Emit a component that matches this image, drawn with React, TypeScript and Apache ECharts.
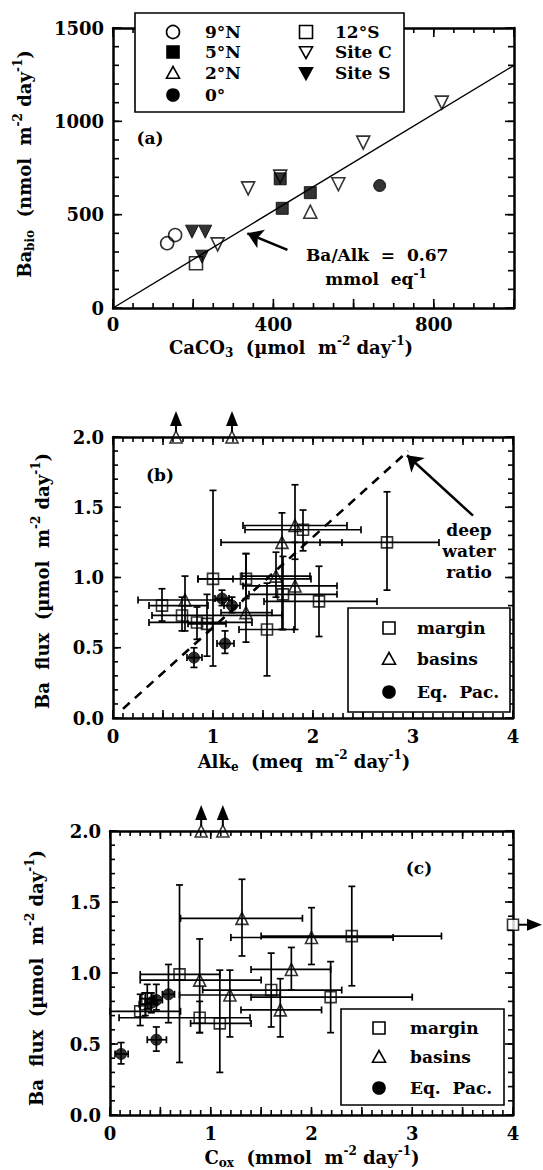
import React, { useEffect, useRef } from 'react';
import * as echarts from 'echarts';

const FONT = '"DejaVu Serif", "Liberation Serif", serif';

// ---------- Panel (a): [CaCO3 (umol m-2 d-1), Ba_bio (nmol m-2 d-1)] ----------
const a9N = [[135, 347], [155, 391]];
const a5N = [[417, 692], [422, 534], [492, 618]];
const a2N = [[492, 516]];
const a0 = [[665, 656]];
const a12S = [[207, 240]];
const aSiteC = [[261, 341], [337, 641], [417, 704], [562, 663], [624, 886], [820, 1100]];
const aSiteS = [[197, 409], [230, 409], [222, 275]];
const aFit = [[0, 0], [1000, 1300]];
const aArrow = [[435, 311], [335, 400]];

// ---------- Panel (b): [Alk_e, Ba flux, xLo, xHi, yLo, yHi] ----------
const bMargin = [
  [0.49, 0.80, 0.36, 0.95, 0.69, 0.92],
  [0.69, 0.73, 0.39, 1.69, 0.62, 0.86],
  [0.84, 0.68, 0.36, 1.39, 0.56, 0.79],
  [0.94, 0.67, 0.75, 1.13, 0.44, 0.88],
  [1.00, 0.99, 0.85, 1.20, 0.37, 1.62],
  [1.33, 0.99, 0.85, 1.98, 0.85, 1.17],
  [1.54, 0.63, 1.26, 1.81, 0.30, 0.96],
  [1.70, 0.88, 1.36, 2.24, 0.63, 1.15],
  [2.06, 0.83, 1.51, 2.64, 0.58, 1.08],
  [1.90, 1.34, 1.32, 2.48, 1.19, 1.48],
  [2.74, 1.25, 2.07, 3.26, 0.91, 1.61],
];
const bBasin = [
  [0.72, 0.84, 0.25, 1.19, 0.62, 1.01],
  [1.33, 0.75, 1.08, 1.59, 0.54, 1.17],
  [1.63, 1.01, 1.29, 1.97, 0.86, 1.18],
  [1.69, 1.25, 1.08, 2.29, 0.63, 1.46],
  [1.82, 1.37, 1.30, 2.34, 1.13, 1.66],
  [1.82, 0.94, 1.30, 2.24, 0.63, 1.25],
];
const bBasinOff = [[0.63, 2.0], [1.19, 2.0]];
const bEqPac = [
  [0.81, 0.43, 0.74, 0.89, 0.36, 0.50],
  [1.12, 0.53, 1.04, 1.21, 0.46, 0.62],
  [1.09, 0.85, 1.02, 1.16, 0.80, 0.91],
  [1.19, 0.80, 1.11, 1.27, 0.75, 0.86],
];
const bDeepWater = [[0.1, 0.065], [2.95, 1.9]];
const bArrow = [[3.6, 1.44], [2.94, 1.87]];

// ---------- Panel (c): [C_ox, Ba flux, xLo, xHi, yLo, yHi] ----------
const cMargin = [
  [2.40, 1.26, 1.50, 3.29, 0.91, 1.61],
  [0.69, 0.99, 0.30, 1.09, 0.37, 1.62],
  [1.60, 0.88, 0.92, 2.30, 0.62, 1.14],
  [2.19, 0.83, 1.40, 3.00, 0.58, 1.08],
  [0.89, 0.685, 0.09, 1.39, 0.58, 0.80],
  [1.09, 0.645, 0.80, 1.40, 0.30, 1.02],
  [0.30, 0.73, 0.00, 0.70, 0.63, 0.85],
  [0.35, 0.78, 0.29, 0.41, 0.70, 0.86],
  [0.37, 0.82, 0.30, 0.44, 0.75, 0.92],
];
const cMarginOff = [[4.0, 1.34]];
const cBasin = [
  [1.31, 1.385, 0.70, 1.91, 1.12, 1.66],
  [2.00, 1.25, 1.20, 2.81, 1.06, 1.46],
  [1.80, 1.025, 1.40, 2.19, 0.88, 1.18],
  [0.89, 0.95, 0.30, 1.50, 0.58, 1.24],
  [1.19, 0.845, 0.69, 1.69, 0.55, 1.02],
  [1.69, 0.74, 1.30, 2.10, 0.55, 0.96],
];
const cBasinOff = [[0.905, 2.0], [1.12, 2.0]];
const cEqPac = [
  [0.11, 0.43, 0.05, 0.18, 0.36, 0.51],
  [0.46, 0.53, 0.37, 0.56, 0.45, 0.62],
  [0.41, 0.79, 0.35, 0.47, 0.72, 0.86],
  [0.46, 0.81, 0.40, 0.52, 0.74, 0.92],
  [0.58, 0.85, 0.52, 0.64, 0.65, 1.06],
];

// tick labels
const aXLabels = [0, 400, 800];
const aYLabels = [0, 500, 1000, 1500];
const bcXLabels = [0, 1, 2, 3, 4];

// tick marks (positions along each axis)
const aXMajorTicks = [0, 200, 400, 600, 800, 1000];
const aYMajorTicks = [0, 500, 1000, 1500];
const bcXMajorTicks = [0, 0.5, 1, 1.5, 2, 2.5, 3, 3.5, 4];
const bcYMajorTicks = [0, 0.5, 1, 1.5, 2];
const steps = (lo: number, hi: number, st: number) => {
  const out: number[] = [];
  for (let i = 0; lo + i * st <= hi + 1e-9; i++) out.push(Math.round((lo + i * st) * 1000) / 1000);
  return out;
};
const aXMinorTicks = steps(0, 1000, 50);
const aYMinorTicks = steps(0, 1500, 100);
const bcXMinorTicks = steps(0, 4, 0.1);
const bcYMinorTicks = steps(0, 2, 0.1);

// ---------- helpers ----------
const BLACK = '#000';
const openStyle = { color: 'transparent', borderColor: BLACK, borderWidth: 1.6 };
const fillStyle = { color: BLACK, borderColor: BLACK, borderWidth: 1 };

function errorRender(params: any, api: any) {
  const x = api.value(0), y = api.value(1);
  const xl = api.value(2), xh = api.value(3), yl = api.value(4), yh = api.value(5);
  const pl = api.coord([xl, y]), ph = api.coord([xh, y]);
  const pb = api.coord([x, yl]), pt = api.coord([x, yh]);
  const c = 3.5;
  const st = { stroke: BLACK, lineWidth: 1.7 };
  const ln = (x1: number, y1: number, x2: number, y2: number) => ({ type: 'line', shape: { x1, y1, x2, y2 }, style: st });
  return {
    type: 'group',
    children: [
      ln(pl[0], pl[1], ph[0], ph[1]),
      ln(pl[0], pl[1] - c, pl[0], pl[1] + c),
      ln(ph[0], ph[1] - c, ph[0], ph[1] + c),
      ln(pb[0], pb[1], pt[0], pt[1]),
      ln(pb[0] - c, pb[1], pb[0] + c, pb[1]),
      ln(pt[0] - c, pt[1], pt[0] + c, pt[1]),
    ],
  };
}

function upArrowRender(params: any, api: any) {
  const p = api.coord([api.value(0), api.value(1)]);
  return {
    type: 'group',
    children: [
      { type: 'line', shape: { x1: p[0], y1: p[1] - 5, x2: p[0], y2: p[1] - 13 }, style: { stroke: BLACK, lineWidth: 2 } },
      { type: 'polygon', shape: { points: [[p[0], p[1] - 26], [p[0] - 6, p[1] - 11], [p[0] + 6, p[1] - 11]] }, style: { fill: BLACK } },
    ],
  };
}

function rightArrowRender(params: any, api: any) {
  const p = api.coord([api.value(0), api.value(1)]);
  return {
    type: 'group',
    children: [
      { type: 'line', shape: { x1: p[0] + 6, y1: p[1], x2: p[0] + 16, y2: p[1] }, style: { stroke: BLACK, lineWidth: 2 } },
      { type: 'polygon', shape: { points: [[p[0] + 29, p[1]], [p[0] + 14, p[1] - 6], [p[0] + 14, p[1] + 6]] }, style: { fill: BLACK } },
    ],
  };
}

const labelFont = { color: BLACK, fontFamily: FONT, fontWeight: 'bold' as const, fontSize: 18 };

function makeX(gridIndex: number, max: number, interval: number, labels: number[], margin: number) {
  const base = {
    gridIndex, type: 'value', min: 0, max, interval,
    splitLine: { show: false },
    axisLine: { show: true, onZero: false, lineStyle: { color: BLACK, width: 2.5 } },
    axisTick: { show: false },
  };
  return [
    { ...base, position: 'bottom', axisLabel: { ...labelFont, margin, formatter: (v: number) => (labels.includes(v) ? String(v) : '') } },
    { ...base, position: 'top', axisLabel: { show: false } },
  ];
}

function makeY(gridIndex: number, max: number, interval: number, fmt: (v: number) => string) {
  const base = {
    gridIndex, type: 'value', min: 0, max, interval,
    splitLine: { show: false },
    axisLine: { show: true, onZero: false, lineStyle: { color: BLACK, width: 2.5 } },
    axisTick: { show: false },
  };
  return [
    { ...base, position: 'left', axisLabel: { ...labelFont, margin: 9, formatter: fmt } },
    { ...base, position: 'right', axisLabel: { show: false } },
  ];
}

const RICH = {
  sup: { fontSize: 12, fontWeight: 'bold', fontFamily: FONT, verticalAlign: 'top', lineHeight: 11, fill: BLACK },
  sub: { fontSize: 12, fontWeight: 'bold', fontFamily: FONT, verticalAlign: 'bottom', lineHeight: 11, fill: BLACK },
};

function txt(text: string, x: number, y: number, size: number, align = 'left', rotation = 0, z = 102) {
  return {
    type: 'text', x, y, rotation, z,
    style: {
      text, fill: BLACK, fontSize: size, fontWeight: 'bold', fontFamily: FONT, lineHeight: size + 6,
      align, verticalAlign: 'middle', textAlign: align, textVerticalAlign: 'middle', rich: RICH,
    },
  };
}

function sym(kind: string, x: number, y: number, s: number, z = 101) {
  const open = kind.endsWith('Open');
  const style = { fill: open ? 'transparent' : BLACK, stroke: BLACK, lineWidth: 1.6 };
  const h = s / 2;
  if (kind.startsWith('circle')) return { type: 'circle', z, shape: { cx: x, cy: y, r: h }, style };
  if (kind.startsWith('rect')) return { type: 'rect', z, shape: { x: x - h, y: y - h, width: s, height: s }, style };
  if (kind.startsWith('triUp')) return { type: 'polygon', z, shape: { points: [[x, y - h], [x - h, y + h * 0.8], [x + h, y + h * 0.8]] }, style };
  return { type: 'polygon', z, shape: { points: [[x, y + h], [x - h, y - h * 0.8], [x + h, y - h * 0.8]] }, style };
}

function box(x: number, y: number, w: number, h: number) {
  return { type: 'rect', z: 100, shape: { x, y, width: w, height: h }, style: { fill: '#fff', stroke: BLACK, lineWidth: 1.6 } };
}

export default function App() {
  const ref = useRef<HTMLDivElement>(null);

  useEffect(() => {
    document.body.style.margin = '0';
    if (!ref.current) return;
    const chart = echarts.init(ref.current, undefined, { renderer: 'svg' });

    const errSeries = (data: number[][], xi: number, yi: number) => ({
      type: 'custom', xAxisIndex: xi, yAxisIndex: yi, data, renderItem: errorRender, z: 2, silent: true, clip: false,
    });
    const scat = (data: number[][], xi: number, yi: number, symbol: string, size: number, style: any, rotate = 0) => ({
      type: 'scatter', xAxisIndex: xi, yAxisIndex: yi, data: data.map((d) => [d[0], d[1]]), symbol, symbolSize: size,
      symbolRotate: rotate, itemStyle: style, z: 3, clip: false, silent: true,
    });
    const arrowMark = (coords: number[][]) => ({
      silent: true, symbol: ['none', 'arrow'], symbolSize: 15, label: { show: false },
      lineStyle: { color: BLACK, width: 2.5, type: 'solid' },
      emphasis: { disabled: true },
      data: [[{ coord: coords[0] }, { coord: coords[1] }]],
    });

    const graphics: any[] = [
      // panel a legend
      box(135, 13, 269, 99),
      sym('circleOpen', 173, 32, 13), txt('9°N', 205, 32, 17),
      sym('rectFill', 173, 52, 12), txt('5°N', 205, 52, 17),
      sym('triUpOpen', 173, 73, 13), txt('2°N', 205, 73, 17),
      sym('circleFill', 173, 95, 12), txt('0°', 205, 95, 17),
      sym('rectOpen', 306, 32, 13), txt('12°S', 335, 32, 17),
      sym('triDownOpen', 306, 52, 13), txt('Site C', 335, 52, 17),
      sym('triDownFill', 306, 73, 13), txt('Site S', 335, 73, 17),
      txt('(a)', 150, 138, 17, 'center'),
      txt('Ba/Alk  =  0.67', 306, 255, 17),
      txt('mmol  eq{sup|-1}', 376, 279, 17, 'center'),
      txt('CaCO{sub|3}  (µmol  m{sup|-2} day{sup|-1})', 291, 347, 18, 'center'),
      txt('Ba{sub|bio}  (nmol  m{sup|-2} day{sup|-1})', 24, 164, 18, 'center', Math.PI / 2),
      // panel b
      box(348, 608, 162, 104),
      sym('rectOpen', 389, 628, 12), txt('margin', 417, 628, 17),
      sym('triUpOpen', 389, 659, 13), txt('basins', 417, 659, 17),
      sym('circleFill', 389, 692, 12), txt('Eq.  Pac.', 417, 692, 17),
      txt('(b)', 160, 475, 17, 'center'),
      txt('deep', 469, 530, 17, 'center'),
      txt('water', 469, 551, 17, 'center'),
      txt('ratio', 469, 572, 17, 'center'),
      txt('Alk{sub|e}  (meq  m{sup|-2} day{sup|-1})', 304, 761, 18, 'center'),
      txt('Ba  flux  (µmol  m{sup|-2} day{sup|-1})', 42, 581, 18, 'center', Math.PI / 2),
      // panel c
      box(341, 1009, 163, 96),
      sym('rectOpen', 379, 1028, 12), txt('margin', 410, 1028, 17),
      sym('triUpOpen', 379, 1057, 13), txt('basins', 410, 1057, 17),
      sym('circleFill', 379, 1088, 12), txt('Eq.  Pac.', 410, 1088, 17),
      txt('(c)', 419, 868, 17, 'center'),
      txt('C{sub|ox}  (mmol  m{sup|-2} day{sup|-1})', 312, 1157, 18, 'center'),
      txt('Ba  flux  (µmol  m{sup|-2} day{sup|-1})', 36, 978, 18, 'center', Math.PI / 2),
    ];

    const option: any = {
      animation: false,
      grid: [
        { left: 113, top: 28, width: 401, height: 280, outerBoundsMode: 'none' },
        { left: 113, top: 437, width: 400, height: 281, outerBoundsMode: 'none' },
        { left: 110, top: 831, width: 403, height: 284, outerBoundsMode: 'none' },
      ],
      xAxis: [
        ...makeX(0, 1000, 200, aXLabels, 7),
        ...makeX(1, 4, 0.5, bcXLabels, 9),
        ...makeX(2, 4, 0.5, bcXLabels, 9),
      ],
      yAxis: [
        ...makeY(0, 1500, 500, (v) => (aYLabels.includes(v) ? String(v) : '')),
        ...makeY(1, 2, 0.5, (v) => v.toFixed(1)),
        ...makeY(2, 2, 0.5, (v) => v.toFixed(1)),
      ],
      series: [
        // panel a
        {
          type: 'line', xAxisIndex: 0, yAxisIndex: 0, data: aFit, symbol: 'none', silent: true,
          lineStyle: { color: BLACK, width: 1.4 }, z: 1, markLine: arrowMark(aArrow),
        },
        scat(a9N, 0, 0, 'circle', 13, openStyle),
        scat(a5N, 0, 0, 'rect', 12, fillStyle),
        scat(a2N, 0, 0, 'triangle', 13, openStyle),
        scat(a0, 0, 0, 'circle', 12, fillStyle),
        scat(a12S, 0, 0, 'rect', 13, openStyle),
        scat(aSiteC, 0, 0, 'triangle', 13, openStyle, 180),
        scat(aSiteS, 0, 0, 'triangle', 13, fillStyle, 180),
        // panel b
        {
          type: 'line', xAxisIndex: 2, yAxisIndex: 2, data: bDeepWater, symbol: 'none', silent: true,
          lineStyle: { color: BLACK, width: 2.6, type: [9, 7] }, z: 1, markLine: arrowMark(bArrow),
        },
        errSeries(bMargin, 2, 2),
        errSeries(bBasin, 2, 2),
        errSeries(bEqPac, 2, 2),
        scat(bMargin, 2, 2, 'rect', 11, openStyle),
        scat(bBasin, 2, 2, 'triangle', 12, openStyle),
        scat(bBasinOff, 2, 2, 'triangle', 12, openStyle),
        scat(bEqPac, 2, 2, 'circle', 11, fillStyle),
        { type: 'custom', xAxisIndex: 2, yAxisIndex: 2, data: bBasinOff, renderItem: upArrowRender, clip: false, silent: true, z: 4 },
        // panel c
        errSeries(cMargin, 4, 4),
        errSeries(cBasin, 4, 4),
        errSeries(cEqPac, 4, 4),
        scat(cMargin, 4, 4, 'rect', 11, openStyle),
        scat(cMarginOff, 4, 4, 'rect', 11, { ...openStyle, color: '#fff' }),
        scat(cBasin, 4, 4, 'triangle', 12, openStyle),
        scat(cBasinOff, 4, 4, 'triangle', 12, openStyle),
        scat(cEqPac, 4, 4, 'circle', 11, fillStyle),
        { type: 'custom', xAxisIndex: 4, yAxisIndex: 4, data: cBasinOff, renderItem: upArrowRender, clip: false, silent: true, z: 4 },
        { type: 'custom', xAxisIndex: 4, yAxisIndex: 4, data: cMarginOff, renderItem: rightArrowRender, clip: false, silent: true, z: 4 },
      ],
      graphic: graphics,
    };

    chart.setOption(option);

    // tick marks on all four sides, positioned through each grid's axis scales
    const tickEls: any[] = [];
    const tst = { stroke: BLACK, lineWidth: 1.6 };
    const addTicks = (k: number, dir: 'x' | 'y', values: number[], len: number, xr: number[], yr: number[]) => {
      const finder = { xAxisIndex: k, yAxisIndex: k };
      values.forEach((v) => {
        if (dir === 'x') {
          const b = chart.convertToPixel(finder, [v, yr[0]]) as number[];
          const t = chart.convertToPixel(finder, [v, yr[1]]) as number[];
          if (!b || !t) return;
          tickEls.push({ type: 'line', z: 50, silent: true, shape: { x1: b[0], y1: b[1], x2: b[0], y2: b[1] - len }, style: tst });
          tickEls.push({ type: 'line', z: 50, silent: true, shape: { x1: t[0], y1: t[1], x2: t[0], y2: t[1] + len }, style: tst });
        } else {
          const l = chart.convertToPixel(finder, [xr[0], v]) as number[];
          const r = chart.convertToPixel(finder, [xr[1], v]) as number[];
          if (!l || !r) return;
          tickEls.push({ type: 'line', z: 50, silent: true, shape: { x1: l[0], y1: l[1], x2: l[0] + len, y2: l[1] }, style: tst });
          tickEls.push({ type: 'line', z: 50, silent: true, shape: { x1: r[0], y1: r[1], x2: r[0] - len, y2: r[1] }, style: tst });
        }
      });
    };
    addTicks(0, 'x', aXMinorTicks, 5, [0, 1000], [0, 1500]);
    addTicks(0, 'x', aXMajorTicks, 9, [0, 1000], [0, 1500]);
    addTicks(0, 'y', aYMinorTicks, 6, [0, 1000], [0, 1500]);
    addTicks(0, 'y', aYMajorTicks, 9, [0, 1000], [0, 1500]);
    addTicks(2, 'x', bcXMinorTicks, 5, [0, 4], [0, 2]);
    addTicks(2, 'x', bcXMajorTicks, 8, [0, 4], [0, 2]);
    addTicks(2, 'y', bcYMinorTicks, 5, [0, 4], [0, 2]);
    addTicks(2, 'y', bcYMajorTicks, 8, [0, 4], [0, 2]);
    addTicks(4, 'x', bcXMinorTicks, 5, [0, 4], [0, 2]);
    addTicks(4, 'x', bcXMajorTicks, 8, [0, 4], [0, 2]);
    addTicks(4, 'y', bcYMinorTicks, 5, [0, 4], [0, 2]);
    addTicks(4, 'y', bcYMajorTicks, 8, [0, 4], [0, 2]);

    chart.setOption({ ...option, graphic: [...graphics, ...tickEls] }, true);
    return () => chart.dispose();
  }, []);

  return <div ref={ref} style={{ width: 543, height: 1170 }} />;
}
